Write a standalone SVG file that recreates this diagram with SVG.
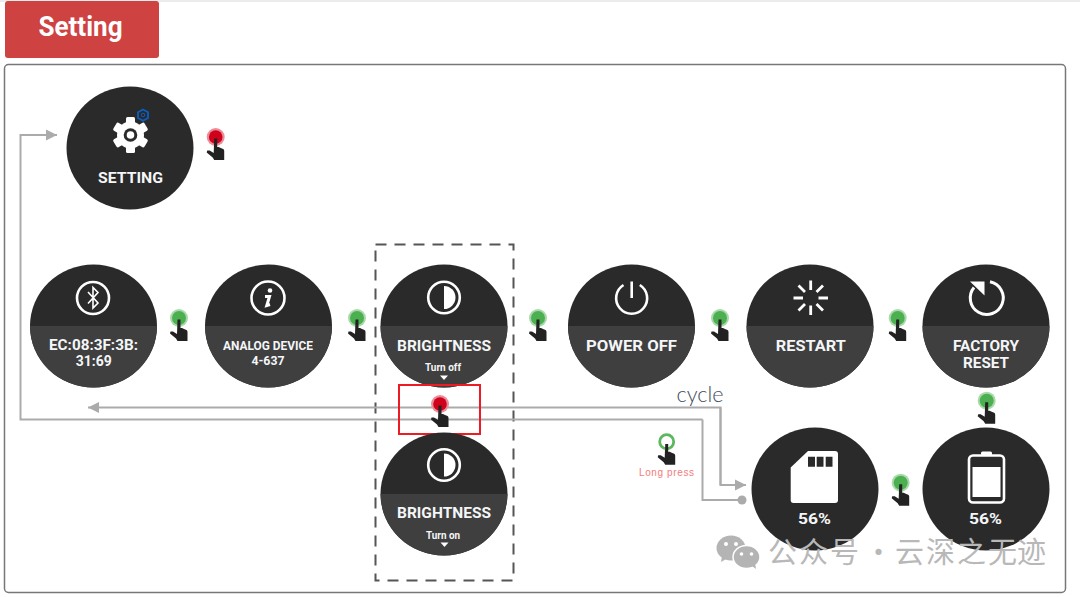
<svg xmlns="http://www.w3.org/2000/svg" xmlns:xlink="http://www.w3.org/1999/xlink" width="1080" height="597" viewBox="0 0 1080 597">
<style>
.t{font-family:Roboto,"Noto Sans","Liberation Sans",sans-serif;font-weight:700;fill:#f4f6f8;text-anchor:middle}
.s{font-size:15.5px}
.x{font-size:10.5px}
.ln{fill:none;stroke:#ababab;stroke-width:2}
.ic{fill:none;stroke:#fff;stroke-width:2.6}
.wm{font-family:"Noto Sans CJK SC","Noto Sans",sans-serif;font-size:29px;fill:#b8b8b8}
</style>
<defs>
<marker id="arr" markerUnits="userSpaceOnUse" markerWidth="12" markerHeight="12" refX="11" refY="6" orient="auto"><path d="M0,0.5L11,6L0,11.5Z" fill="#ababab"/></marker>
<g id="disc"><ellipse rx="63.5" ry="61.5" fill="#2a2a2a"/></g>
<g id="split"><ellipse rx="63.5" ry="61.5" fill="#2a2a2a"/><path d="M-63.5,0A63.5,61.5 0 0 0 63.5,0Z" fill="#3f3f3f"/></g>
<path id="hand" fill="#222" d="M-1.500,1.500L1.500,1.500L1.500,10L3,10L5,11L7.500,12Q8.500,12.500 8.500,14L8.500,23L-1.500,23L-3,20.500L-9,15.500L-8.500,13.500L-6,13.500L-2,16Z"/>
<g id="pg"><circle r="9" fill="#a9d9ab"/><circle r="7" fill="#4caf50"/><use href="#hand"/></g>
<g id="pr"><circle r="9" fill="#ec8c98"/><circle r="6.800" fill="#d0021b"/><use href="#hand"/></g>
<g id="bri"><circle r="15.800" class="ic"/><path d="M0,-11.500A11.500,11.500 0 0 1 0,11.500Z" fill="#fff"/></g>
</defs>
<rect x="0" y="0" width="1080" height="2" fill="#ececec"/>
<g id="title"><rect x="5" y="1" width="154" height="57" rx="3" fill="#cf4242"/><text x="80.500" y="36" text-anchor="middle" font-family="Roboto,Noto Sans,sans-serif" font-weight="700" font-size="27" fill="#fff" textLength="84" lengthAdjust="spacingAndGlyphs">Setting</text></g>
<rect id="panel" x="4.500" y="64.500" width="1061" height="528" rx="4" fill="#fff" stroke="#777" stroke-width="1.500"/>
<rect id="group-brightness" x="375.500" y="244.500" width="138" height="336" fill="none" stroke="#555" stroke-width="2" stroke-dasharray="11 8"/>
<g id="connectors">
<path class="ln" d="M720.500,485V407.500H88" marker-end="url(#arr)"/>
<path class="ln" d="M720.500,407.500V485H746" marker-end="url(#arr)"/>
<path class="ln" d="M702.500,419.500H20.500V135H57" marker-end="url(#arr)"/>
<path class="ln" d="M702.500,419.500V500H740"/>
<circle cx="742" cy="500" r="4.500" fill="#ababab"/>
</g>
<g id="node-setting"><use href="#disc" x="130" y="148"/>
<g transform="translate(130.500,135)"><circle r="13.500" fill="#fff"/><g fill="#fff"><rect x="-4.500" y="-18" width="9" height="36" rx="1.500"/><rect x="-4.500" y="-18" width="9" height="36" rx="1.500" transform="rotate(60)"/><rect x="-4.500" y="-18" width="9" height="36" rx="1.500" transform="rotate(120)"/></g><circle r="6.800" fill="#2a2a2a"/><circle r="3.800" fill="#fff"/></g>
<path d="M143,109.500L148,112.300V118L143,120.800L138,118V112.300Z" fill="none" stroke="#0b5fc4" stroke-width="1.800"/><circle cx="143" cy="115" r="1.800" fill="none" stroke="#0b5fc4"/>
<text class="t s" x="130.500" y="183" textLength="65" lengthAdjust="spacingAndGlyphs">SETTING</text></g>
<use id="press-setting" href="#pr" x="215.700" y="137"/>
<g id="node-bluetooth"><use href="#split" x="93.500" y="326"/><circle cx="93" cy="298" r="16" class="ic"/><path d="M88,292L98,303L93,308V287.500L98,292.500L88,303.500" fill="none" stroke="#fff" stroke-width="1.600"/>
<text class="t s"><tspan x="93.500" y="350" textLength="89" lengthAdjust="spacingAndGlyphs">EC:08:3F:3B:</tspan><tspan x="93.700" y="366" textLength="36" lengthAdjust="spacingAndGlyphs">31:69</tspan></text></g>
<use id="press-1" href="#pg" x="179" y="318"/>
<g id="node-device"><use href="#split" x="268.500" y="326"/><circle cx="268" cy="298" r="16.500" class="ic"/><circle cx="270" cy="290.500" r="2.300" fill="#fff"/><path d="M265,296.500H269.500L266.800,305.500L270,304.500" fill="none" stroke="#fff" stroke-width="3"/>
<text class="t" font-size="13.500"><tspan x="268" y="350" textLength="90" lengthAdjust="spacingAndGlyphs">ANALOG DEVICE</tspan><tspan x="268" y="365" textLength="33" lengthAdjust="spacingAndGlyphs">4-637</tspan></text></g>
<use id="press-2" href="#pg" x="357" y="318"/>
<g id="node-brightness-off"><use href="#split" x="444" y="326"/><use href="#bri" x="444" y="297.500"/>
<text class="t s" x="444" y="350.500" textLength="94" lengthAdjust="spacingAndGlyphs">BRIGHTNESS</text><text class="t x" x="443" y="371" textLength="36" lengthAdjust="spacingAndGlyphs">Turn off</text><path d="M440,375.500H448L444,380Z" fill="#fff"/></g>
<use id="press-3" href="#pg" x="538" y="318"/>
<g id="node-poweroff"><use href="#split" x="631.500" y="326"/><path d="M623.500,285A15.500,15.500 0 1 0 639.800,285" class="ic"/><path d="M631.700,281.500V298" class="ic"/>
<text class="t s" x="631.500" y="350.500" textLength="91" lengthAdjust="spacingAndGlyphs">POWER OFF</text></g>
<use id="press-4" href="#pg" x="720" y="318"/>
<g id="node-restart"><use href="#split" x="810" y="326"/><path d="M810.700,280.500V290M810.700,305.500V315M793.500,298H803M818.500,298H828M798.500,285.500L805,292M816.500,304L823,310.500M823,285.500L816.500,292M805,304L798.500,310.500" fill="none" stroke="#fff" stroke-width="2.800"/>
<text class="t s" x="810.800" y="350.500" textLength="70" lengthAdjust="spacingAndGlyphs">RESTART</text></g>
<use id="press-5" href="#pg" x="897.700" y="318"/>
<g id="node-factory"><use href="#split" x="986" y="326"/><path d="M974,287.500A16.500,16.500 0 1 0 990,281.800" fill="none" stroke="#fff" stroke-width="3"/><path d="M970,281.500H984.500V295.500Z" fill="#fff"/>
<text class="t s"><tspan x="986" y="351" textLength="66" lengthAdjust="spacingAndGlyphs">FACTORY</tspan><tspan x="986" y="367.500" textLength="46" lengthAdjust="spacingAndGlyphs">RESET</tspan></text></g>
<use id="press-6" href="#pg" x="986.700" y="400.700"/>
<g id="press-brightness"><use href="#pr" x="440" y="404"/><rect x="399" y="385" width="81" height="49" fill="none" stroke="#ec1c24" stroke-width="2"/></g>
<g id="node-brightness-on"><use href="#split" x="444" y="494"/><use href="#bri" x="444" y="465"/>
<text class="t s" x="444" y="518" textLength="94" lengthAdjust="spacingAndGlyphs">BRIGHTNESS</text><text class="t x" x="443" y="538.500" textLength="34" lengthAdjust="spacingAndGlyphs">Turn on</text><path d="M440.500,542.500H448.500L444.500,547Z" fill="#fff"/></g>
<text id="label-cycle" x="700" y="402" text-anchor="middle" font-family="Lato,Inter,sans-serif" font-weight="300" font-size="22" fill="#444c5a" textLength="47" lengthAdjust="spacingAndGlyphs">cycle</text>
<g id="press-long"><use href="#hand" x="666.700" y="441.700"/><circle cx="666.700" cy="441.700" r="7" fill="#fff" stroke="#5cb85c" stroke-width="2.800"/><path d="M665.200,444H668.200V450H665.200Z" fill="#222"/><text x="666.500" y="476" text-anchor="middle" font-family="Liberation Sans,sans-serif" font-size="10" fill="#f27c7c" textLength="55">Long press</text></g>
<g id="node-sd"><use href="#disc" x="815" y="489"/><path d="M808,451H835Q838,451 838,454V500Q838,503 835,503H793.500Q790.700,503 790.700,500V467.500Z" fill="#fff"/><path d="M808,456.700h7v10h-7zM816.700,456.700h6.800v10h-6.800zM825.700,456.700h6.800v10h-6.800z" fill="#2a2a2a"/>
<text class="t s" x="814.500" y="524" textLength="33" lengthAdjust="spacingAndGlyphs">56%</text></g>
<use id="press-7" href="#pg" x="900.700" y="482.700"/>
<g id="node-battery"><use href="#disc" x="986" y="489"/><rect x="981" y="451.500" width="11" height="4" rx="1.500" fill="#fff"/><rect x="969" y="455.500" width="35" height="47" rx="4" class="ic"/><rect x="972.500" y="467" width="28" height="30" fill="#fff"/>
<text class="t s" x="985.500" y="524" textLength="33" lengthAdjust="spacingAndGlyphs">56%</text></g>
<g id="watermark"><ellipse cx="731" cy="548" rx="14.500" ry="12.500" fill="#b4b4b4"/><path d="M722,556L721,562L728,558Z" fill="#b4b4b4"/><ellipse cx="746.500" cy="557" rx="13.500" ry="11.500" fill="#b4b4b4" stroke="#fff" stroke-width="1.500"/><path d="M752,566L756,569L755,563Z" fill="#b4b4b4"/><circle cx="726" cy="544" r="2" fill="#fff"/><circle cx="736" cy="544" r="2" fill="#fff"/><circle cx="741.500" cy="554" r="1.800" fill="#fff"/><circle cx="751.500" cy="554" r="1.800" fill="#fff"/>
<text class="wm" y="563" x="768 799 830 861 864 880 895 926 957 988 1017">公众号 · 云深之无迹</text></g>
</svg>
